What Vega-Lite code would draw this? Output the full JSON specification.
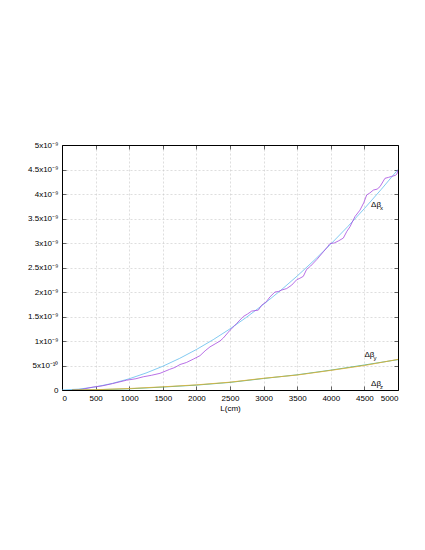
{
  "$schema": "https://vega.github.io/schema/vega-lite/v6.json",
  "autosize": {"type": "none"},
  "padding": {"left": 62, "top": 145, "right": 27, "bottom": 160},
  "width": 336,
  "height": 245,
  "background": "white",
  "config": {
    "font": "Liberation Sans",
    "view": {"stroke": null},
    "axis": {
      "labelFont": "Liberation Sans",
      "labelFontSize": 8,
      "labelColor": "black",
      "labelOverlap": false,
      "titleFont": "Liberation Sans",
      "titleFontSize": 8,
      "titleFontWeight": "normal",
      "titleColor": "black",
      "domain": true,
      "domainColor": "black",
      "domainWidth": 1,
      "tickColor": "black",
      "tickWidth": 0.6,
      "tickSize": -4,
      "labelPadding": 8,
      "gridColor": "#c8c8c8",
      "gridDash": [2, 2],
      "gridWidth": 0.6
    }
  },
  "resolve": {"axis": {"x": "independent", "y": "independent"}},
  "datasets": {
    "curves": [
      {"series": "fit_x", "L": 0, "dbeta": 0},
      {"series": "fit_x", "L": 250, "dbeta": 0.0176e-9},
      {"series": "fit_x", "L": 500, "dbeta": 0.0636e-9},
      {"series": "fit_x", "L": 750, "dbeta": 0.1346e-9},
      {"series": "fit_x", "L": 1000, "dbeta": 0.229e-9},
      {"series": "fit_x", "L": 1250, "dbeta": 0.346e-9},
      {"series": "fit_x", "L": 1500, "dbeta": 0.485e-9},
      {"series": "fit_x", "L": 1750, "dbeta": 0.645e-9},
      {"series": "fit_x", "L": 2000, "dbeta": 0.826e-9},
      {"series": "fit_x", "L": 2250, "dbeta": 1.027e-9},
      {"series": "fit_x", "L": 2500, "dbeta": 1.248e-9},
      {"series": "fit_x", "L": 2750, "dbeta": 1.489e-9},
      {"series": "fit_x", "L": 3000, "dbeta": 1.749e-9},
      {"series": "fit_x", "L": 3250, "dbeta": 2.028e-9},
      {"series": "fit_x", "L": 3500, "dbeta": 2.326e-9},
      {"series": "fit_x", "L": 3750, "dbeta": 2.643e-9},
      {"series": "fit_x", "L": 4000, "dbeta": 2.978e-9},
      {"series": "fit_x", "L": 4250, "dbeta": 3.331e-9},
      {"series": "fit_x", "L": 4500, "dbeta": 3.703e-9},
      {"series": "fit_x", "L": 4750, "dbeta": 4.093e-9},
      {"series": "fit_x", "L": 5000, "dbeta": 4.5e-9},

      {"series": "x", "L": 150, "dbeta": 0},
      {"series": "x", "L": 300, "dbeta": 0.015e-9},
      {"series": "x", "L": 466, "dbeta": 0.06e-9},
      {"series": "x", "L": 600, "dbeta": 0.085e-9},
      {"series": "x", "L": 750, "dbeta": 0.13e-9},
      {"series": "x", "L": 962, "dbeta": 0.2e-9},
      {"series": "x", "L": 1100, "dbeta": 0.23e-9},
      {"series": "x", "L": 1210, "dbeta": 0.27e-9},
      {"series": "x", "L": 1330, "dbeta": 0.3e-9},
      {"series": "x", "L": 1458, "dbeta": 0.34e-9},
      {"series": "x", "L": 1600, "dbeta": 0.42e-9},
      {"series": "x", "L": 1680, "dbeta": 0.46e-9},
      {"series": "x", "L": 1756, "dbeta": 0.52e-9},
      {"series": "x", "L": 1850, "dbeta": 0.56e-9},
      {"series": "x", "L": 1954, "dbeta": 0.63e-9},
      {"series": "x", "L": 2053, "dbeta": 0.7e-9},
      {"series": "x", "L": 2130, "dbeta": 0.8e-9},
      {"series": "x", "L": 2202, "dbeta": 0.88e-9},
      {"series": "x", "L": 2290, "dbeta": 0.95e-9},
      {"series": "x", "L": 2351, "dbeta": 1.0e-9},
      {"series": "x", "L": 2400, "dbeta": 1.06e-9},
      {"series": "x", "L": 2500, "dbeta": 1.22e-9},
      {"series": "x", "L": 2560, "dbeta": 1.3e-9},
      {"series": "x", "L": 2600, "dbeta": 1.36e-9},
      {"series": "x", "L": 2698, "dbeta": 1.5e-9},
      {"series": "x", "L": 2760, "dbeta": 1.55e-9},
      {"series": "x", "L": 2822, "dbeta": 1.61e-9},
      {"series": "x", "L": 2921, "dbeta": 1.63e-9},
      {"series": "x", "L": 2971, "dbeta": 1.73e-9},
      {"series": "x", "L": 3040, "dbeta": 1.8e-9},
      {"series": "x", "L": 3095, "dbeta": 1.9e-9},
      {"series": "x", "L": 3169, "dbeta": 2.0e-9},
      {"series": "x", "L": 3220, "dbeta": 2.01e-9},
      {"series": "x", "L": 3269, "dbeta": 2.04e-9},
      {"series": "x", "L": 3343, "dbeta": 2.07e-9},
      {"series": "x", "L": 3418, "dbeta": 2.14e-9},
      {"series": "x", "L": 3492, "dbeta": 2.25e-9},
      {"series": "x", "L": 3540, "dbeta": 2.28e-9},
      {"series": "x", "L": 3591, "dbeta": 2.32e-9},
      {"series": "x", "L": 3640, "dbeta": 2.46e-9},
      {"series": "x", "L": 3700, "dbeta": 2.53e-9},
      {"series": "x", "L": 3790, "dbeta": 2.66e-9},
      {"series": "x", "L": 3889, "dbeta": 2.82e-9},
      {"series": "x", "L": 3950, "dbeta": 2.92e-9},
      {"series": "x", "L": 3988, "dbeta": 2.99e-9},
      {"series": "x", "L": 4050, "dbeta": 3.0e-9},
      {"series": "x", "L": 4111, "dbeta": 3.04e-9},
      {"series": "x", "L": 4186, "dbeta": 3.1e-9},
      {"series": "x", "L": 4240, "dbeta": 3.24e-9},
      {"series": "x", "L": 4285, "dbeta": 3.33e-9},
      {"series": "x", "L": 4360, "dbeta": 3.54e-9},
      {"series": "x", "L": 4434, "dbeta": 3.67e-9},
      {"series": "x", "L": 4490, "dbeta": 3.82e-9},
      {"series": "x", "L": 4534, "dbeta": 3.98e-9},
      {"series": "x", "L": 4580, "dbeta": 4.02e-9},
      {"series": "x", "L": 4633, "dbeta": 4.08e-9},
      {"series": "x", "L": 4690, "dbeta": 4.1e-9},
      {"series": "x", "L": 4732, "dbeta": 4.15e-9},
      {"series": "x", "L": 4806, "dbeta": 4.32e-9},
      {"series": "x", "L": 4860, "dbeta": 4.34e-9},
      {"series": "x", "L": 4906, "dbeta": 4.36e-9},
      {"series": "x", "L": 4960, "dbeta": 4.38e-9},
      {"series": "x", "L": 4985, "dbeta": 4.41e-9},
      {"series": "x", "L": 5000, "dbeta": 4.49e-9},

      {"series": "z", "L": 150, "dbeta": 0},
      {"series": "z", "L": 500, "dbeta": 0.005e-9},
      {"series": "z", "L": 1000, "dbeta": 0.025e-9},
      {"series": "z", "L": 1500, "dbeta": 0.06e-9},
      {"series": "z", "L": 2000, "dbeta": 0.1e-9},
      {"series": "z", "L": 2500, "dbeta": 0.155e-9},
      {"series": "z", "L": 3000, "dbeta": 0.235e-9},
      {"series": "z", "L": 3500, "dbeta": 0.31e-9},
      {"series": "z", "L": 4000, "dbeta": 0.405e-9},
      {"series": "z", "L": 4500, "dbeta": 0.51e-9},
      {"series": "z", "L": 5000, "dbeta": 0.62e-9},

      {"series": "y", "L": 150, "dbeta": 0},
      {"series": "y", "L": 500, "dbeta": 0.007e-9},
      {"series": "y", "L": 1000, "dbeta": 0.03e-9},
      {"series": "y", "L": 1500, "dbeta": 0.065e-9},
      {"series": "y", "L": 2000, "dbeta": 0.105e-9},
      {"series": "y", "L": 2500, "dbeta": 0.16e-9},
      {"series": "y", "L": 3000, "dbeta": 0.24e-9},
      {"series": "y", "L": 3500, "dbeta": 0.305e-9},
      {"series": "y", "L": 4000, "dbeta": 0.4e-9},
      {"series": "y", "L": 4500, "dbeta": 0.5e-9},
      {"series": "y", "L": 5000, "dbeta": 0.625e-9}
    ],
    "labels": [
      {"name": "Δβ", "sub": "x", "L": 4600, "dbeta": 3.78e-9},
      {"name": "Δβ", "sub": "y", "L": 4500, "dbeta": 0.72e-9},
      {"name": "Δβ", "sub": "z", "L": 4600, "dbeta": 0.12e-9}
    ]
  },
  "layer": [
    {
      "data": {"name": "curves"},
      "mark": {"type": "line", "strokeWidth": 0.8, "clip": true},
      "encoding": {
        "x": {
          "field": "L", "type": "quantitative",
          "scale": {"domain": [0, 5000], "nice": false},
          "axis": {"title": "L(cm)", "format": "d", "values": [0,500,1000,1500,2000,2500,3000,3500,4000,4500,5000], "titlePadding": 2}
        },
        "y": {
          "field": "dbeta", "type": "quantitative",
          "scale": {"domain": [0, 5e-9], "nice": false},
          "axis": {
            "title": null,
            "values": [0, 5e-10, 1e-9, 1.5e-9, 2e-9, 2.5e-9, 3e-9, 3.5e-9, 4e-9, 4.5e-9, 5e-9],
            "labelExpr": "datum.value == 0 ? '0' : (datum.value < 9e-10 ? '5x10⁻¹⁰' : format(datum.value * 1e9, '.2~f') + 'x10⁻⁹')"
          }
        },
        "color": {
          "field": "series", "type": "nominal",
          "scale": {"domain": ["x", "fit_x", "z", "y"], "range": ["#A64BE0", "#62BDEE", "#2BAA85", "#E8AE2E"]},
          "legend": null
        },
        "order": {"field": "L", "type": "quantitative"}
      }
    },
    {
      "data": {"name": "labels"},
      "mark": {"type": "text", "align": "left", "baseline": "middle", "fontSize": 8, "font": "Liberation Sans"},
      "encoding": {
        "x": {"field": "L", "type": "quantitative", "axis": {"orient": "top", "title": null, "labels": false, "grid": false, "values": [0,500,1000,1500,2000,2500,3000,3500,4000,4500,5000]}},
        "y": {"field": "dbeta", "type": "quantitative", "axis": {"orient": "right", "title": null, "labels": false, "grid": false, "values": [0, 5e-10, 1e-9, 1.5e-9, 2e-9, 2.5e-9, 3e-9, 3.5e-9, 4e-9, 4.5e-9, 5e-9]}},
        "text": {"field": "name"}
      }
    },
    {
      "data": {"name": "labels"},
      "mark": {"type": "text", "align": "left", "baseline": "middle", "fontSize": 6, "dx": 9, "dy": 3, "font": "Liberation Sans"},
      "encoding": {
        "x": {"field": "L", "type": "quantitative", "axis": null},
        "y": {"field": "dbeta", "type": "quantitative", "axis": null},
        "text": {"field": "sub"}
      }
    }
  ]
}
